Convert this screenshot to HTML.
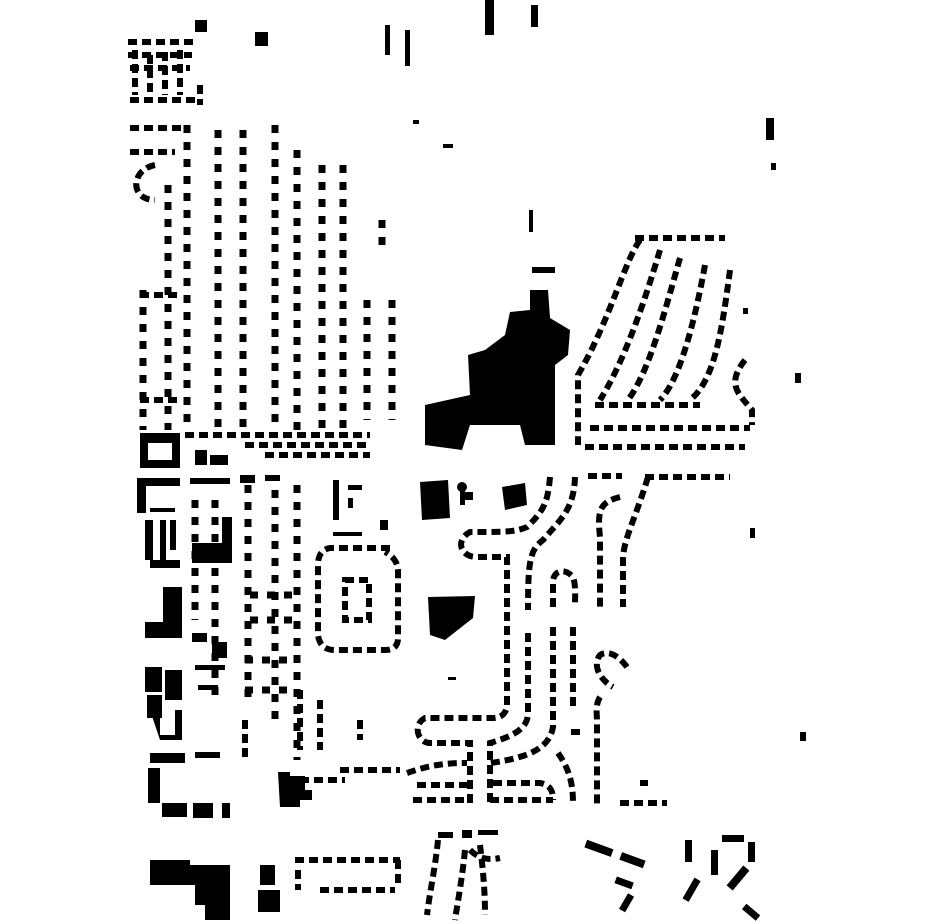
<!DOCTYPE html>
<html><head><meta charset="utf-8"><style>html,body{margin:0;padding:0;background:#fff}svg{display:block}</style></head>
<body>
<svg width="930" height="924" viewBox="0 0 930 924" xmlns="http://www.w3.org/2000/svg">
<rect width="930" height="924" fill="#fff"/>
<g fill="#000">
<polygon points="530,290 548,290 550,318 570,330 568,355 555,365 555,445 525,445 520,425 470,425 462,450 425,445 425,405 470,395 468,355 485,350 505,335 510,312 530,310"/>
<path d="M420,482 L448,480 L450,518 L422,520 Z"/>
<circle cx="462" cy="487" r="5"/><rect x="460" y="490" width="5" height="15"/><rect x="463" y="492" width="10" height="8"/>
<path d="M502,487 L525,483 L527,505 L505,510 Z"/>
<path d="M428,597 L475,596 L473,618 L445,640 L430,635 Z"/>
<path fill-rule="evenodd" d="M140,433 H180 V468 H140 Z M148,443 V460 H172 V443 Z"/>
<rect x="137" y="478" width="43" height="8"/><rect x="137" y="478" width="9" height="35"/><rect x="150" y="508" width="25" height="4"/>
<rect x="145" y="520" width="8" height="40"/><rect x="163" y="587" width="19" height="35"/><rect x="145" y="622" width="37" height="16"/>
<rect x="160" y="520" width="6" height="40"/><rect x="170" y="520" width="6" height="30"/><rect x="150" y="560" width="30" height="8"/>
<rect x="192" y="543" width="40" height="20"/><rect x="222" y="517" width="10" height="46"/>
<rect x="145" y="667" width="17" height="25"/><rect x="165" y="670" width="17" height="30"/><rect x="147" y="695" width="15" height="23"/>
<path d="M150,710 H160 V735 H175 V710 H182 V740 H160 Z"/>
<rect x="148" y="768" width="12" height="35"/><rect x="162" y="803" width="25" height="14"/><rect x="193" y="803" width="20" height="15"/><rect x="222" y="803" width="8" height="15"/>
<rect x="150" y="753" width="35" height="10"/><rect x="195" y="752" width="25" height="6"/>
<path d="M278,772 H290 V776 H305 V790 H312 V800 H300 V807 H280 Z"/>
<rect x="212" y="642" width="15" height="16"/><rect x="192" y="633" width="15" height="9"/><rect x="195" y="665" width="30" height="5"/><rect x="198" y="685" width="20" height="5"/>
<rect x="195" y="450" width="12" height="15"/><rect x="210" y="455" width="18" height="10"/>
<rect x="190" y="478" width="40" height="6"/><rect x="240" y="475" width="15" height="8"/><rect x="265" y="475" width="15" height="6"/>
<rect x="333" y="480" width="6" height="40"/><rect x="348" y="485" width="14" height="5"/><rect x="348" y="498" width="5" height="10"/><rect x="333" y="532" width="29" height="4"/>
<rect x="380" y="520" width="8" height="10"/>
<rect x="150" y="860" width="40" height="25"/><path d="M190,865 H230 V920 H205 V905 H195 V885 H190 Z"/><rect x="260" y="865" width="15" height="20"/><rect x="258" y="890" width="22" height="22"/>
<rect x="195" y="20" width="12" height="12"/><rect x="255" y="32" width="13" height="14"/><rect x="485" y="0" width="9" height="35"/><rect x="531" y="5" width="7" height="22"/>
<rect x="385" y="25" width="5" height="30"/><rect x="405" y="30" width="5" height="36"/>
<rect x="766" y="118" width="8" height="22"/><rect x="771" y="163" width="5" height="7"/><rect x="413" y="120" width="6" height="4"/><rect x="443" y="144" width="10" height="4"/>
<rect x="529" y="210" width="4" height="22"/><rect x="532" y="267" width="23" height="6"/>
<rect x="795" y="373" width="6" height="10"/><rect x="750" y="528" width="5" height="10"/><rect x="800" y="732" width="6" height="9"/><rect x="640" y="780" width="8" height="6"/><rect x="448" y="677" width="8" height="3"/><rect x="743" y="308" width="5" height="6"/>
<g transform="rotate(20 598 848)"><rect x="585" y="844" width="28" height="8"/></g>
<g transform="rotate(20 632 860)"><rect x="620" y="856" width="25" height="8"/></g>
<g transform="rotate(20 623 883)"><rect x="615" y="879" width="18" height="7"/></g>
<g transform="rotate(-60 627 903)"><rect x="618" y="899" width="18" height="7"/></g>
<rect x="685" y="840" width="7" height="22"/><g transform="rotate(-60 692 890)"><rect x="680" y="886" width="24" height="7"/></g>
<rect x="711" y="850" width="7" height="25"/><rect x="722" y="835" width="22" height="7"/><rect x="748" y="842" width="7" height="20"/>
<g transform="rotate(-50 738 878)"><rect x="725" y="874" width="26" height="8"/></g>
<g transform="rotate(40 750 912)"><rect x="742" y="908" width="18" height="7"/></g>
<rect x="462" y="830" width="10" height="8"/><rect x="478" y="830" width="20" height="5"/><rect x="438" y="832" width="15" height="6"/>
</g>
<g fill="none" stroke="#000" stroke-width="6" stroke-dasharray="9 5">
<path d="M128,42 H195 M128,55 H192 M130,68 H190 M130,100 H195 M135,50 V95 M150,55 V95 M165,52 V95 M180,50 V95 M200,85 V105"/>
<path d="M130,128 H190 M130,152 H175 M155,165 C130,170 130,200 155,200"/>
<path stroke-width="7" stroke-dasharray="8 9" d="M143,290 V430 M168,185 V430 M187,125 V430 M218,130 V430 M243,130 V430 M275,125 V430 M297,150 V430 M322,165 V430 M343,165 V430 M367,300 V420 M392,300 V420 M382,220 V250"/>
<path d="M140,295 H180 M185,435 H370 M245,445 H370 M265,455 H370 M140,400 H180"/>
<path stroke-width="7" stroke-dasharray="8 9" d="M195,500 V620 M215,500 V700 M248,485 V700 M275,490 V720 M297,485 V760 M250,595 H300 M250,620 H300 M245,660 H290 M245,690 H290"/>
<path d="M300,780 H345 M340,770 H400 M245,720 V760 M300,690 V750 M320,700 V750 M360,720 V740"/>
<path d="M390,548 H330 Q318,550 318,565 V635 Q320,650 335,650 H385 Q398,650 398,638 V570 Q397,558 385,552"/>
<rect x="345" y="580" width="24" height="40"/>
<path d="M635,238 H725"/>
<path d="M640,240 C625,260 610,320 578,375 V445"/>
<path d="M660,250 C645,300 625,360 600,400"/>
<path d="M680,258 C665,310 650,370 628,400"/>
<path d="M705,265 C695,320 680,380 660,400"/>
<path d="M730,270 C722,330 715,380 690,400"/>
<path d="M745,360 C725,385 740,395 752,410 V425"/>
<path d="M595,405 H700 M590,428 H750 M585,447 H745"/>
<path d="M588,476 H622 M645,477 H730"/>
<path d="M550,477 C548,500 545,510 527,527 C515,532 507,532 470,532 C455,540 460,557 477,557 H507 V707 C505,715 500,718 493,718 H425 C412,725 418,743 430,743 H470 V803"/>
<path d="M575,477 C574,510 560,520 543,540 C530,550 528,560 528,610 M528,633 V713 C528,730 510,737 490,743 V803"/>
<path d="M620,497 C600,502 597,510 600,537 V607"/>
<path d="M648,477 C635,520 623,540 623,560 V607"/>
<path d="M553,607 V580 C555,570 565,568 573,577 C576,585 575,595 575,607"/>
<path d="M553,627 V727 C550,745 535,757 490,763"/>
<path d="M573,627 V710"/>
<path d="M580,732 H570 M558,753 C570,770 573,785 573,803"/>
<path d="M627,667 C618,655 608,650 600,655 C592,665 600,680 613,687"/>
<path d="M600,697 C595,705 597,715 597,720 V807"/>
<path d="M407,773 C430,765 445,763 467,763 M417,785 H467 M413,800 H472 M490,800 H553 M620,803 H667 M493,783 H540 C550,785 553,790 553,800"/>
<path d="M295,860 H400 M320,890 H395 M298,870 V890 M398,860 V885"/>
<path d="M438,840 C435,870 430,890 427,915 M465,850 C462,880 458,900 455,920 M480,845 C483,870 485,890 485,915 M470,850 C480,860 490,860 500,858"/>
</g>
</svg>
</body></html>
